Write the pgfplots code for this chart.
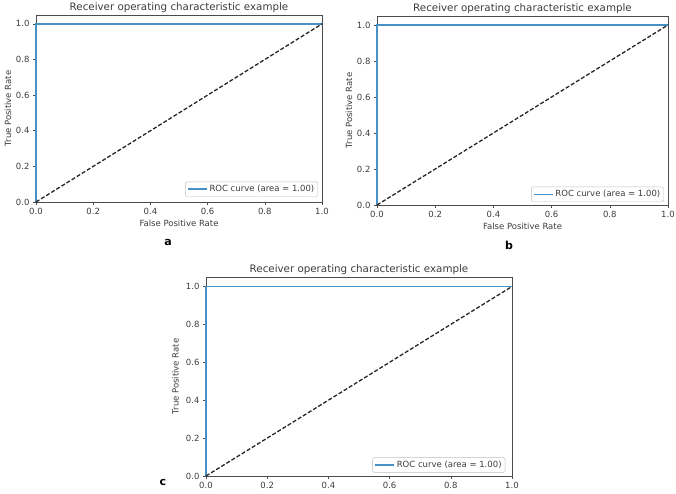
\documentclass[border=0pt]{standalone}
\usepackage{pgfplots}
\pgfplotsset{compat=1.18}
\usepackage{fontspec}
\setmainfont{DejaVu Sans}
\definecolor{roc}{RGB}{70,145,200}
\definecolor{txt}{RGB}{60,60,60}
\pgfplotsset{
  rocax/.style={
    scale only axis,
    anchor=south west,
    xmin=0, xmax=1, ymin=0, ymax=1.05,
    xtick={0,0.2,0.4,0.6,0.8,1.0},
    ytick={0,0.2,0.4,0.6,0.8,1.0},
    xtick pos=left, ytick pos=left,
    tick align=outside,
    major tick length=3bp,
    axis line style={draw=black!70, line width=0.8bp},
    every tick/.style={black!70, line width=0.6bp},
    /pgf/number format/assume math mode=true,
    /pgf/number format/.cd, fixed, fixed zerofill, precision=1,
    /pgfplots/.cd,
    ticklabel style={font=\fontsize{8.5bp}{10bp}\selectfont, text=txt},
    label style={font=\fontsize{8.5bp}{10bp}\selectfont, text=txt},
    every axis title shift=0pt,
    title style={font=\fontsize{10.3bp}{12bp}\selectfont, text=txt, at={(axis description cs:0.5,1)}, anchor=base, yshift=4bp},
    xlabel style={at={(axis description cs:0.5,0)}, anchor=base, yshift=-25bp},
    clip=false,
    legend style={font=\fontsize{8.5bp}{10bp}\selectfont, text=txt, draw=black!25, rounded corners=1.5bp, anchor=south east, inner sep=1.5bp},
    legend cell align=left,
    legend image code/.code={\draw[roc, line width=1.6bp] (0bp,0bp) -- (19bp,0bp);},
    title={Receiver operating characteristic example},
  }
}
\begin{document}
\begin{tikzpicture}
\path[use as bounding box] (0,0) rectangle (676bp,494bp);
% panel a
\begin{axis}[rocax, at={(36bp,292bp)}, width=286bp, height=187bp,
  xlabel={False Positive Rate}, ylabel={True Positive Rate},
  ylabel style={at={(axis description cs:-0.098,0.5)}, anchor=center},
  legend style={at={(axis description cs:0.986,0.027)}}]
\addplot[roc, line width=1.6bp] coordinates {(0,0) (0,1) (1,1)};
\addlegendentry{ROC curve (area = 1.00)}
\addplot[black!85, dashed, dash pattern=on 4bp off 2bp, line width=1.3bp, forget plot] coordinates {(0,0) (1,1)};
\end{axis}
% panel b
\begin{axis}[rocax, at={(377bp,289bp)}, width=291bp, height=189bp,
  xlabel={False Positive Rate}, ylabel={True Positive Rate},
  ylabel style={at={(axis description cs:-0.096,0.5)}, anchor=center},
  legend style={at={(axis description cs:0.986,0.016)}}]
\addplot[roc, line width=1.6bp] coordinates {(0,0) (0,1) (1,1)};
\addlegendentry{ROC curve (area = 1.00)}
\addplot[black!85, dashed, dash pattern=on 4bp off 2bp, line width=1.3bp, forget plot] coordinates {(0,0) (1,1)};
\end{axis}
% panel c
\begin{axis}[rocax, at={(206bp,18bp)}, width=306bp, height=199bp,
  ylabel={True Positive Rate},
  ylabel style={at={(axis description cs:-0.10,0.5)}, anchor=center},
  legend style={at={(axis description cs:0.978,0.016)}}]
\addplot[roc, line width=1.6bp] coordinates {(0,0) (0,1) (1,1)};
\addlegendentry{ROC curve (area = 1.00)}
\addplot[black!85, dashed, dash pattern=on 4bp off 2bp, line width=1.3bp, forget plot] coordinates {(0,0) (1,1)};
\end{axis}
\node[font=\fontsize{11bp}{12bp}\selectfont\bfseries] at (168bp,251bp) {a};
\node[font=\fontsize{11bp}{12bp}\selectfont\bfseries] at (509bp,249bp) {b};
\node[font=\fontsize{11bp}{12bp}\selectfont\bfseries] at (163bp,12bp) {c};
\end{tikzpicture}
\end{document}
